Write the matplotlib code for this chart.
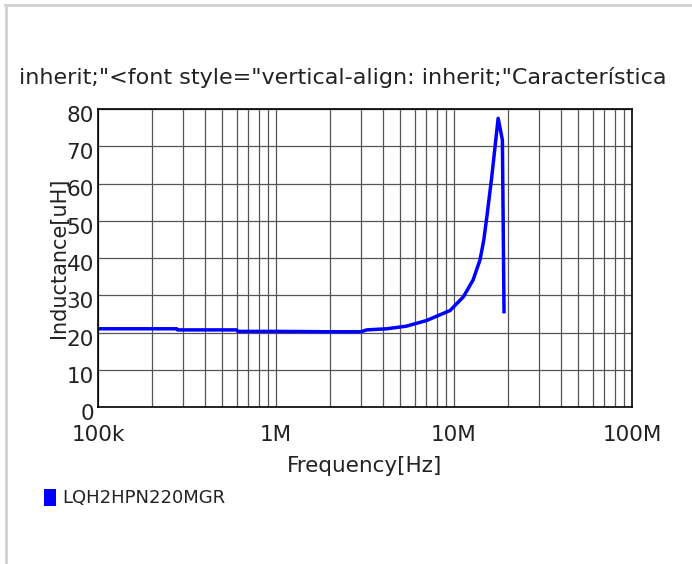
'''Inductance vs frequency characteristic for LQH2HPN220MGR.'''

# ----------------------------------------------------------------------------
# Modules
from matplotlib import pyplot as plt
from matplotlib.lines import Line2D
from matplotlib.ticker import FixedLocator, LogLocator, NullFormatter
from matplotlib.transforms import ScaledTranslation
import numpy as np

# ----------------------------------------------------------------------------
# Data
freq_hz = [1.0e5, 2.77e5, 2.80e5, 6.0e5, 6.1e5, 1.0e6, 2.0e6, 3.0e6, 3.23e6,
           4.19e6, 5.4e6, 7.0e6, 9.5e6, 11.3e6, 12.8e6, 14.0e6, 14.7e6,
           15.3e6, 16.3e6, 17.7e6, 18.7e6, 19.1e6]
inductance_uh = [21.0, 21.0, 20.7, 20.7, 20.3, 20.3, 20.2, 20.2, 20.7,
                 21.0, 21.7, 23.2, 25.9, 29.6, 34.1, 39.5, 44.8,
                 51.1, 61.8, 77.5, 71.7, 25.6]

series_name = 'LQH2HPN220MGR'
title = 'inherit;"<font style="vertical-align: inherit;"Característica'
x_ticks = [1e5, 1e6, 1e7, 1e8]
x_tick_labels = ['100k', '1M', '10M', '100M']
y_ticks = [0, 10, 20, 30, 40, 50, 60, 70, 80]

# ----------------------------------------------------------------------------


def main():

    plt.rcParams['font.family'] = ['DejaVu Sans']

    fig = plt.figure(figsize=(6.92, 5.64), dpi=100)
    ax = fig.add_axes([98 / 692, 1 - 407 / 564, 534 / 692, 298 / 564])

    ax.plot(freq_hz, inductance_uh, color='#0000ff', linewidth=2.5)

    ax.set_xscale('log')
    ax.set_xlim(1e5, 1e8)
    ax.set_ylim(0, 80)
    ax.xaxis.set_major_locator(FixedLocator(x_ticks))
    ax.set_xticklabels(x_tick_labels)
    ax.xaxis.set_minor_locator(LogLocator(base=10, subs=np.arange(2, 10)))
    ax.xaxis.set_minor_formatter(NullFormatter())
    ax.set_yticks(y_ticks)

    ax.grid(True, which='both', axis='x', color='#555555', linewidth=0.9)
    ax.grid(True, which='major', axis='y', color='#555555', linewidth=0.9)
    ax.set_axisbelow(True)
    ax.tick_params(which='both', length=0, labelsize=15.5, colors='#222222')
    ax.tick_params(axis='x', pad=13)
    ax.tick_params(axis='y', pad=3)
    # y labels sit a little below their grid lines in the reference
    shift = ScaledTranslation(0, -5 / 100, fig.dpi_scale_trans)
    for lbl in ax.get_yticklabels():
        lbl.set_transform(lbl.get_transform() + shift)
    for spine in ax.spines.values():
        spine.set_color('black')
        spine.set_linewidth(1.2)

    ax.set_xlabel('Frequency[Hz]', fontsize=15.5, color='#222222',
                  labelpad=8)
    ax.set_ylabel('Inductance[uH]', fontsize=15, color='#222222',
                  labelpad=-2)

    fig.text(343 / 692, 1 - 77 / 564, title, fontsize=16, color='#222222',
             ha='center', va='center')

    # Legend: blue square + name
    fig.patches.append(plt.Rectangle((44 / 692, 1 - 506 / 564), 12 / 692,
                                     17 / 564, transform=fig.transFigure,
                                     facecolor='#0000ff', edgecolor='none'))
    fig.text(62 / 692, 1 - 498 / 564, series_name, fontsize=13,
             color='#222222', ha='left', va='center')

    # Light frame at the top and left
    fig.add_artist(Line2D([5 / 692, 1], [1 - 4.5 / 564, 1 - 4.5 / 564],
                          transform=fig.transFigure, color='#d0d0d0',
                          linewidth=2))
    fig.add_artist(Line2D([5.5 / 692, 5.5 / 692], [0, 1 - 4.5 / 564],
                          transform=fig.transFigure, color='#d0d0d0',
                          linewidth=2))

    fig.savefig('out.png', dpi=100)

    return None

# ----------------------------------------------------------------------------


if __name__ == "__main__":
    main()
